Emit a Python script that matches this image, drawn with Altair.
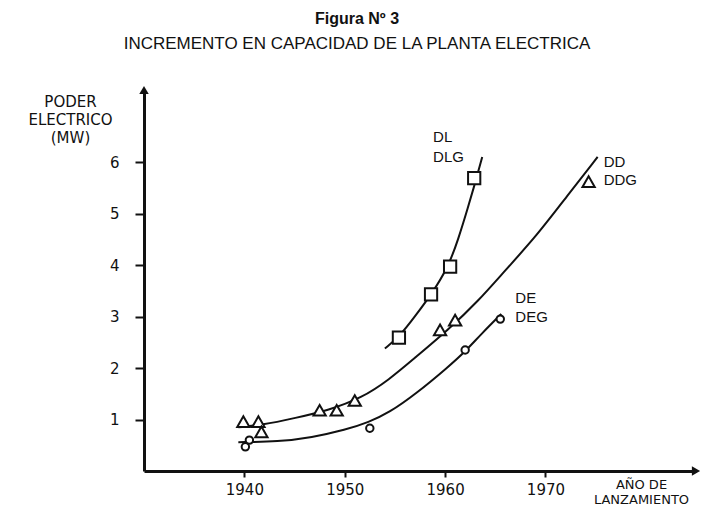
import altair as alt
import pandas as pd

# ---- axis ranges -------------------------------------------------------
X_MIN, X_MAX = 1930, 1985
Y_MIN, Y_MAX = 0, 7.4
x_ticks = [1940, 1950, 1960, 1970]
y_ticks = [1, 2, 3, 4, 5, 6]

# ---- fitted curves -----------------------------------------------------
dl_curve_year = [1954.0, 1955.5, 1957.1, 1958.7, 1960.3, 1961.3, 1962.3, 1963.0, 1963.7]
dl_curve_mw = [2.38, 2.62, 3.03, 3.45, 3.96, 4.49, 5.13, 5.60, 6.10]
dd_curve_year = [1939.4, 1941.7, 1945.1, 1948.4, 1951.7, 1954.4, 1957.0, 1960.3, 1963.3,
                 1966.0, 1969.0, 1972.0, 1975.2]
dd_curve_mw = [0.85, 0.89, 1.03, 1.18, 1.42, 1.77, 2.20, 2.74, 3.30, 3.90, 4.54, 5.30, 6.10]
de_curve_year = [1939.4, 1943.4, 1946.7, 1950.1, 1952.4, 1954.4, 1957.1, 1960.3, 1962.0,
                 1963.6, 1965.6]
de_curve_mw = [0.56, 0.57, 0.65, 0.80, 0.95, 1.13, 1.50, 2.02, 2.32, 2.66, 3.05]

# ---- observed ships ----------------------------------------------------
dl_year = [1955.4, 1958.6, 1960.5, 1962.9]
dl_mw = [2.59, 3.43, 3.97, 5.69]
dd_year = [1939.9, 1941.4, 1941.7, 1947.5, 1949.2, 1951.0, 1959.5, 1961.0, 1974.3]
dd_mw = [0.96, 0.96, 0.76, 1.18, 1.18, 1.37, 2.74, 2.93, 5.62]
de_year = [1940.1, 1940.5, 1952.5, 1962.0, 1965.5]
de_mw = [0.47, 0.60, 0.83, 2.35, 2.95]

# ---- series labels -----------------------------------------------------
label_text = ["DL", "DLG", "DD", "DDG", "DE", "DEG"]
label_year = [1958.8, 1958.8, 1975.8, 1975.8, 1967.0, 1967.0]
label_mw = [6.49, 6.10, 6.00, 5.65, 3.36, 2.99]

FONT = "DejaVu Sans"
INK = "#111111"

xs = alt.Scale(domain=[X_MIN, X_MAX], nice=False, zero=False)
ys = alt.Scale(domain=[Y_MIN, Y_MAX], nice=False)

curves = pd.concat([
    pd.DataFrame({"year": dl_curve_year, "mw": dl_curve_mw, "serie": "DL", "o": range(len(dl_curve_year))}),
    pd.DataFrame({"year": dd_curve_year, "mw": dd_curve_mw, "serie": "DD", "o": range(len(dd_curve_year))}),
    pd.DataFrame({"year": de_curve_year, "mw": de_curve_mw, "serie": "DE", "o": range(len(de_curve_year))}),
])

x_enc = alt.X("year:Q", scale=xs,
              axis=alt.Axis(values=x_ticks, format="d", grid=False,
                            domainWidth=3, domainColor=INK, tickColor=INK,
                            tickWidth=2, tickSize=6, labelPadding=5,
                            labelFont=FONT, labelFontSize=15, labelColor=INK,
                            title=["AÑO DE", "LANZAMIENTO"], titleFont=FONT,
                            titleFontSize=13, titleFontWeight="normal", titleColor=INK,
                            titleX=497, titleY=7, titleAlign="center",
                            titleBaseline="top", titleLineHeight=15))
y_enc = alt.Y("mw:Q", scale=ys,
              axis=alt.Axis(values=y_ticks, grid=False, domainWidth=3,
                            domainColor=INK, tickColor=INK, tickWidth=2,
                            tickSize=9, labelPadding=16, labelFont=FONT,
                            labelFontSize=15, labelColor=INK,
                            title=["PODER", "ELECTRICO", "(MW)"], titleFont=FONT,
                            titleFontSize=15, titleFontWeight="normal", titleColor=INK,
                            titleAngle=0, titleX=-74, titleY=4, titleAlign="center",
                            titleBaseline="top", titleLineHeight=18))

curve_layer = alt.Chart(curves).mark_line(
    color=INK, strokeWidth=2, interpolate="basis", clip=False
).encode(x=x_enc, y=y_enc, detail="serie:N", order="o:Q")

def pts(years, vals, shape, size):
    return alt.Chart(pd.DataFrame({"year": years, "mw": vals})).mark_point(
        shape=shape, size=size, filled=True, fill="white", stroke=INK,
        strokeWidth=2, opacity=1
    ).encode(x=alt.X("year:Q", scale=xs), y=alt.Y("mw:Q", scale=ys))

sq = pts(dl_year, dl_mw, "square", 150)
tri = pts(dd_year, dd_mw, "triangle-up", 150)
cir = pts(de_year, de_mw, "circle", 55)

labels = alt.Chart(pd.DataFrame({"year": label_year, "mw": label_mw, "t": label_text})).mark_text(
    align="left", baseline="middle", font="Liberation Sans", fontSize=15, color=INK
).encode(x=alt.X("year:Q", scale=xs), y=alt.Y("mw:Q", scale=ys), text="t:N")

arrows = alt.Chart(pd.DataFrame({
    "year": [X_MAX, X_MIN], "mw": [Y_MIN, Y_MAX], "shape": ["triangle-right", "triangle-up"]
})).mark_point(filled=True, color=INK, size=90, opacity=1).encode(
    x=alt.X("year:Q", scale=xs), y=alt.Y("mw:Q", scale=ys),
    shape=alt.Shape("shape:N", scale=None)
)

chart = alt.layer(curve_layer, sq, tri, cir, labels, arrows).properties(
    width=552, height=381,
    title=alt.TitleParams(
        text="Figura Nº 3",
        subtitle="INCREMENTO EN CAPACIDAD DE LA PLANTA ELECTRICA",
        anchor="middle", frame="group", dx=-63, offset=34,
        font="Liberation Sans", fontSize=16, fontWeight="bold", color=INK,
        subtitleFont="Liberation Sans", subtitleFontSize=17, subtitleColor=INK,
        subtitlePadding=9,
    ),
    autosize=alt.AutoSizeParams(type="none"),
    padding={"left": 136, "top": 82, "right": 8, "bottom": 36},
).configure_view(stroke=None)

chart.save("out.html", embed_options={"renderer": "svg", "actions": False})
